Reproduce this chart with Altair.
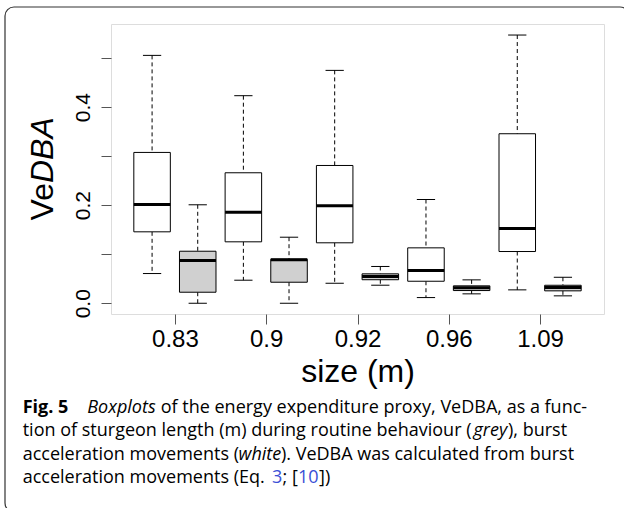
import json
import altair as alt
import pandas as pd

# ---- data ----
sizes = ["0.83", "0.9", "0.92", "0.96", "1.09"]
groups = ["burst", "routine"] * 5
positions = [1, 2, 3, 4, 5, 6, 7, 8, 9, 10]
lower = [0.0606, 0.0, 0.047, 0.0, 0.0408, 0.0368, 0.0116, 0.0192, 0.0273, 0.0151]
q1 = [0.1457, 0.0225, 0.1253, 0.0429, 0.1233, 0.048, 0.0449, 0.0259, 0.1055, 0.0253]
median = [0.2014, 0.0871, 0.1857, 0.0886, 0.1988, 0.0545, 0.0667, 0.0314, 0.1524, 0.032]
q3 = [0.3076, 0.1061, 0.2661, 0.0898, 0.281, 0.06, 0.113, 0.0355, 0.3457, 0.0367]
upper = [0.5055, 0.2008, 0.4233, 0.1347, 0.4749, 0.075, 0.2116, 0.0477, 0.547, 0.053]
x_tick_values = [1.5, 3.5, 5.5, 7.5, 9.5]
y_tick_values = [0.0, 0.1, 0.2, 0.3, 0.4, 0.5]
y_tick_labels = ["0.0", "", "0.2", "", "0.4", ""]

df = pd.DataFrame({
    "pos": positions, "group": groups, "lower": lower, "q1": q1,
    "median": median, "q3": q3, "upper": upper,
})

OX, OY = 111, 24          # view origin on the page
W, H = 493, 290

xscale = alt.Scale(domain=[0.1, 10.9], nice=False, zero=False)
yscale = alt.Scale(domain=[-0.0219, 0.5695], nice=False, zero=False)

xaxis = alt.Axis(
    values=x_tick_values,
    labelExpr=f"{json.dumps(sizes)}[round((datum.value-1.5)/2)]",
    title=None, grid=False, domain=False, tickSize=10, tickColor="#555",
    tickWidth=1, labelFont="Liberation Sans", labelFontSize=24,
    labelColor="black", labelPadding=3, labelFlush=False, labelOverlap=False,
    labelBaseline="top",
)
yaxis = alt.Axis(
    values=y_tick_values,
    labelExpr=f"{json.dumps(y_tick_labels)}[round(datum.value*10)]",
    title=None, grid=False, domain=False, tickSize=10, tickColor="#555",
    tickWidth=1, labelFont="Liberation Sans", labelFontSize=21,
    labelColor="black", labelPadding=12, labelAngle=270, labelAlign="center",
    labelBaseline="alphabetic", labelFlush=False, labelOverlap=False,
)

base = alt.Chart(df).transform_calculate(
    xl="datum.pos - 0.4", xr="datum.pos + 0.4",
    cl="datum.pos - 0.2", cr="datum.pos + 0.2",
)

whisk_up = base.mark_rule(color="black", strokeWidth=1, strokeDash=[4, 3]).encode(
    x=alt.X("pos:Q", scale=xscale, axis=xaxis),
    y=alt.Y("upper:Q", scale=yscale, axis=yaxis),
    y2="q3:Q",
)
whisk_lo = base.mark_rule(color="black", strokeWidth=1, strokeDash=[4, 3]).encode(
    x=alt.X("pos:Q"), y=alt.Y("q1:Q"), y2="lower:Q",
)
cap_up = base.mark_rule(color="black", strokeWidth=1).encode(
    x=alt.X("cl:Q"), x2="cr:Q", y=alt.Y("upper:Q"),
)
cap_lo = base.mark_rule(color="black", strokeWidth=1).encode(
    x=alt.X("cl:Q"), x2="cr:Q", y=alt.Y("lower:Q"),
)
boxes = base.mark_rect(stroke="black", strokeWidth=1).encode(
    x=alt.X("xl:Q"), x2="xr:Q", y=alt.Y("q1:Q"), y2="q3:Q",
    fill=alt.Fill("group:N", scale=alt.Scale(domain=["burst", "routine"],
                                              range=["white", "#D0D0D0"]),
                  legend=None),
)
medians = base.mark_rule(color="black", strokeWidth=3).encode(
    x=alt.X("xl:Q"), x2="xr:Q", y=alt.Y("median:Q"),
)

one = pd.DataFrame({"k": [0]})


def txt(text, x, y, size, font="Liberation Sans", style="normal",
        weight="normal", color="black", angle=0, align="left",
        baseline="alphabetic"):
    return alt.Chart(one).mark_text(
        text=text, font=font, fontSize=size, fontStyle=style,
        fontWeight=weight, color=color, angle=angle, align=align,
        baseline=baseline,
    ).encode(x=alt.value(x - OX), y=alt.value(y - OY))


border = alt.Chart(one).mark_rect(
    filled=False, stroke="#333", strokeWidth=1.2, cornerRadius=9
).encode(
    x=alt.value(5 - OX), x2=alt.value(629 - OX),
    y=alt.value(7 - OY), y2=alt.value(512 - OY),
)

CF = "Open Sans"
CS = 18
blue = "#3A4FD6"
texts = [
    txt("Ve", 53, 183, 32, angle=270, align="right"),
    txt("DBA", 53, 183, 32, style="italic", angle=270, align="left"),
    txt("size (m)", 358, 382, 32, align="center"),
    # caption
    txt("Fig. 5", 22.7, 412.7, CS, font=CF, weight="bold"),
    txt("Boxplots", 87.3, 412.7, CS, font=CF, style="italic"),
    txt("of the energy expenditure proxy, VeDBA, as a func-", 160.7, 412.7, CS, font=CF),
    txt("tion of sturgeon length (m) during routine behaviour (", 22.7, 436, CS, font=CF),
    txt("grey", 473.5, 436, CS, font=CF, style="italic"),
    txt("), burst", 508, 436, CS, font=CF),
    txt("acceleration movements (", 22.7, 459.5, CS, font=CF),
    txt("white", 238.5, 459.5, CS, font=CF, style="italic"),
    txt("). VeDBA was calculated from burst", 281, 459.5, CS, font=CF),
    txt("acceleration movements (Eq.", 22.7, 483, CS, font=CF),
    txt("3", 272, 483, CS, font=CF, color=blue),
    txt("; [", 282.5, 483, CS, font=CF),
    txt("10", 298, 483, CS, font=CF, color=blue),
    txt("])", 319, 483, CS, font=CF),
]

chart = alt.layer(
    whisk_up, whisk_lo, cap_up, cap_lo, boxes, medians, border, *texts
).properties(
    width=W, height=H,
    padding={"left": OX, "top": OY, "right": 624 - OX - W, "bottom": 508 - OY - H},
    autosize=alt.AutoSizeParams(type="none"),
).configure_view(stroke="#222", strokeWidth=1).configure(background="white")

chart.save("out.html", embed_options={"renderer": "svg", "actions": False})
